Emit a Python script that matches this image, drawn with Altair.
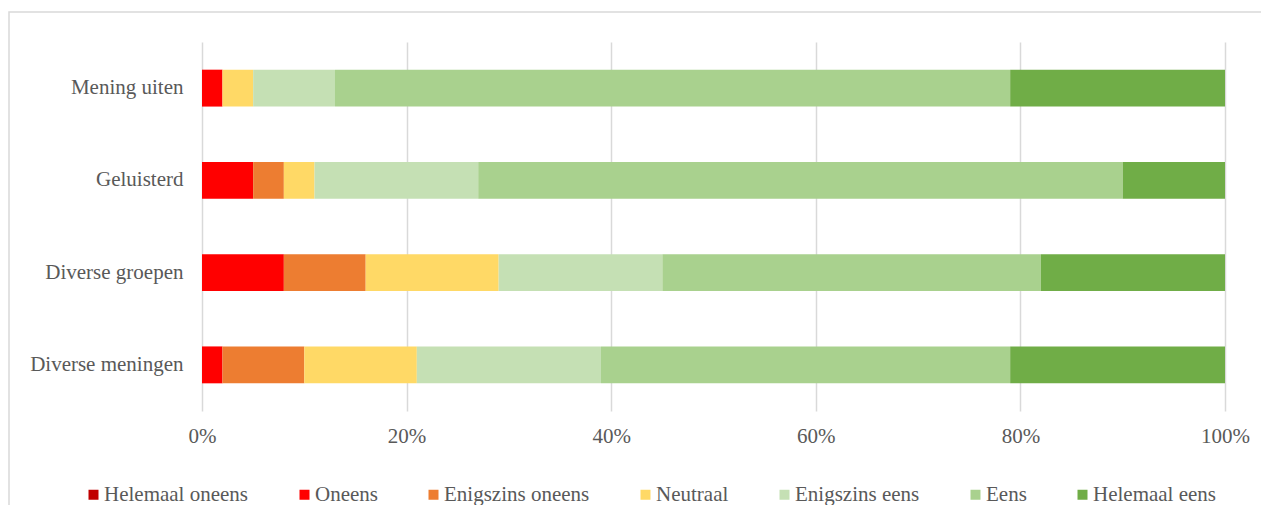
import altair as alt
import pandas as pd

questions = ["Mening uiten", "Geluisterd", "Diverse groepen", "Diverse meningen"]
categories = ["Helemaal oneens", "Oneens", "Enigszins oneens", "Neutraal",
              "Enigszins eens", "Eens", "Helemaal eens"]
colors = ["#C00000", "#FF0000", "#ED7D31", "#FFD966", "#C5E0B4", "#A9D18E", "#70AD47"]

helemaal_oneens = [0, 0, 0, 0]
oneens = [2, 5, 8, 2]
enigszins_oneens = [0, 3, 8, 8]
neutraal = [3, 3, 13, 11]
enigszins_eens = [8, 16, 16, 18]
eens = [66, 63, 37, 40]
helemaal_eens = [21, 10, 18, 21]

series = [helemaal_oneens, oneens, enigszins_oneens, neutraal,
          enigszins_eens, eens, helemaal_eens]

rows = []
for ci, (cat, vals) in enumerate(zip(categories, series)):
    for q, v in zip(questions, vals):
        rows.append({"vraag": q, "antwoord": cat, "pct": v, "ord": ci})
df = pd.DataFrame(rows)

FONT = "Liberation Serif, Times New Roman, serif"
GRAY = "#595959"
FS = 21

# chart-area frame (decoration, like the Excel chart border)
frame = alt.Chart(pd.DataFrame({"k": [0]})).mark_rect(
    fill=None, stroke="#d9d9d9", strokeWidth=1.5
).encode(
    x=alt.value(-193), x2=alt.value(1080),
    y=alt.value(-30), y2=alt.value(480),
)

bars = alt.Chart(df).mark_bar().encode(
    y=alt.Y("vraag:N", sort=questions, title=None,
            scale=alt.Scale(paddingInner=0.6, paddingOuter=0.3),
            axis=alt.Axis(ticks=False, domain=False, labelPadding=19,
                          labelFont=FONT, labelFontSize=FS, labelColor=GRAY,
                          labelLimit=300)),
    x=alt.X("pct:Q", stack="zero", title=None,
            scale=alt.Scale(domain=[0, 100], nice=False),
            axis=alt.Axis(values=[0, 20, 40, 60, 80, 100],
                          labelExpr="datum.value + '%'",
                          labelFlush=False,
                          ticks=False, domain=False, labelPadding=14,
                          labelFont=FONT, labelFontSize=FS, labelColor=GRAY,
                          gridColor="#d9d9d9", gridWidth=1.5)),
    color=alt.Color("antwoord:N",
                    scale=alt.Scale(domain=categories, range=colors),
                    sort=categories,
                    legend=alt.Legend(title=None, orient="none", direction="horizontal",
                                      columns=7, legendX=-119, legendY=442,
                                      symbolType="square", symbolSize=100,
                                      symbolStrokeWidth=0, labelOffset=0,
                                      columnPadding=45,
                                      labelFont=FONT, labelFontSize=FS,
                                      labelColor=GRAY, labelLimit=300)),
    order=alt.Order("ord:Q", sort="ascending"),
)

chart = alt.layer(frame, bars).properties(
    width=1023, height=369,
    autosize=alt.AutoSizeParams(type="none"),
    padding={"left": 194, "top": 34, "right": 36, "bottom": 94},
).configure_view(stroke=None)

chart.save("out.html", embed_options={"renderer": "svg", "actions": False})
